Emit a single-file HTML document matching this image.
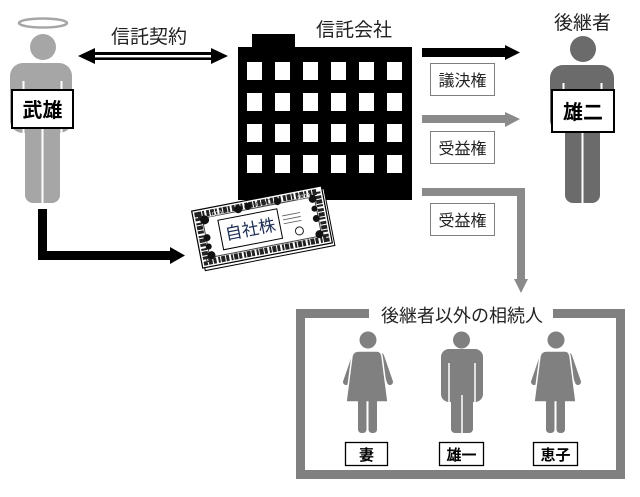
<!DOCTYPE html>
<html><head><meta charset="utf-8">
<style>
html,body{margin:0;padding:0;background:#fff;}
svg{display:block;}
text{font-family:"Liberation Sans","Noto Sans CJK JP",sans-serif;}
</style></head>
<body>
<svg width="640" height="497" viewBox="0 0 640 497" xmlns="http://www.w3.org/2000/svg">
<!-- Takeo figure -->
<g fill="#a6a6a6">
  <ellipse cx="43" cy="23" rx="24" ry="4.5" fill="none" stroke="#a6a6a6" stroke-width="2.5"/>
  <circle cx="43" cy="47" r="13"/>
  <rect x="10" y="63" width="62" height="70" rx="13"/>
  <rect x="25" y="110" width="35" height="93" rx="8"/>
</g>
<g stroke="#fff" stroke-width="2">
  <line x1="23.5" y1="81" x2="23.5" y2="134"/>
  <line x1="61.5" y1="81" x2="61.5" y2="134"/>
  <line x1="42.5" y1="128" x2="42.5" y2="204"/>
</g>
<rect x="12" y="90" width="61" height="38" fill="#fff" stroke="#000" stroke-width="2"/>
<text x="42.5" y="117" font-size="20" font-weight="bold" text-anchor="middle" fill="#000">武雄</text>

<!-- Yuji figure -->
<g fill="#6b6b6b">
  <circle cx="583" cy="49" r="13"/>
  <rect x="550" y="65" width="64" height="68" rx="13"/>
  <rect x="565" y="110" width="35" height="93" rx="8"/>
</g>
<g stroke="#fff" stroke-width="2">
  <line x1="563.5" y1="83" x2="563.5" y2="134"/>
  <line x1="601.5" y1="83" x2="601.5" y2="134"/>
  <line x1="582.5" y1="130" x2="582.5" y2="204"/>
</g>
<rect x="552" y="90" width="62" height="42" fill="#fff" stroke="#000" stroke-width="2"/>
<text x="583" y="119" font-size="20" font-weight="bold" text-anchor="middle" fill="#000">雄二</text>
<text x="582.5" y="29" font-size="19" text-anchor="middle" fill="#222">後継者</text>

<!-- double arrow -->
<polygon points="78,56 95,48 95,52 211,52 211,48 228,56 211,64 211,60 95,60 95,64" fill="#000"/>
<rect x="95" y="55" width="116" height="2.4" fill="#fff"/>
<text x="149" y="43" font-size="19" text-anchor="middle" fill="#222">信託契約</text>

<!-- building -->
<text x="354" y="36" font-size="19" text-anchor="middle" fill="#222">信託会社</text>
<rect x="252" y="34" width="43" height="14" fill="#000"/>
<rect x="238" y="47" width="174" height="153" fill="#000"/>
<g fill="#fff">
  <rect x="247" y="62" width="15" height="18"/><rect x="275" y="62" width="15" height="18"/><rect x="303" y="62" width="15" height="18"/><rect x="331" y="62" width="15" height="18"/><rect x="359" y="62" width="15" height="18"/><rect x="387" y="62" width="15" height="18"/>
  <rect x="247" y="93" width="15" height="18"/><rect x="275" y="93" width="15" height="18"/><rect x="303" y="93" width="15" height="18"/><rect x="331" y="93" width="15" height="18"/><rect x="359" y="93" width="15" height="18"/><rect x="387" y="93" width="15" height="18"/>
  <rect x="247" y="124" width="15" height="18"/><rect x="275" y="124" width="15" height="18"/><rect x="303" y="124" width="15" height="18"/><rect x="331" y="124" width="15" height="18"/><rect x="359" y="124" width="15" height="18"/><rect x="387" y="124" width="15" height="18"/>
  <rect x="247" y="155" width="15" height="18"/><rect x="275" y="155" width="15" height="18"/><rect x="303" y="155" width="15" height="18"/><rect x="331" y="155" width="15" height="18"/><rect x="359" y="155" width="15" height="18"/><rect x="387" y="155" width="15" height="18"/>
</g>

<!-- L arrow from Takeo -->
<polygon points="38,209 47,209 47,251 170,251 170,247 185,255.5 170,264 170,260 38,260" fill="#000"/>

<!-- stock certificate -->
<g transform="translate(262,227) rotate(-11)">
  <rect x="-64" y="-26" width="132" height="58" fill="#fff" stroke="#000" stroke-width="1"/>
  <rect x="-66" y="-29" width="132" height="58" fill="#fff" stroke="#000" stroke-width="1.2"/>
  <rect x="-61" y="-24" width="122" height="48" fill="none" stroke="#222" stroke-width="6" stroke-dasharray="4 1 2 2 3 1"/>
  <rect x="-57" y="-20" width="114" height="40" fill="none" stroke="#444" stroke-width="1"/>
  <g fill="#111">
    <circle cx="-55" cy="-18" r="4.5"/><circle cx="55" cy="-18" r="4"/>
    <circle cx="-55" cy="18" r="4"/><circle cx="55" cy="18" r="4"/>
    <circle cx="-20" cy="-22" r="4"/><circle cx="-10" cy="-23" r="3.5"/><circle cx="20" cy="-22" r="3.5"/>
    <circle cx="-56" cy="0" r="3.5"/><circle cx="55" cy="2" r="3.5"/>
    <circle cx="-56" cy="9" r="3"/><circle cx="55" cy="-8" r="3"/>
  </g>
  <text x="-50" y="-20" font-size="6" fill="#fff">1000</text>
  <text x="40" y="-20" font-size="6" fill="#fff">1000</text>
  <text x="-2" y="-21" font-size="7" fill="#333">OOO</text>
  <rect x="-42" y="-15" width="60" height="30" fill="#fff" stroke="#000" stroke-width="1"/>
  <line x1="22" y1="-7" x2="40" y2="-7" stroke="#555" stroke-width="0.8"/>
  <line x1="22" y1="-3" x2="40" y2="-3" stroke="#555" stroke-width="0.8"/>
  <line x1="22" y1="1" x2="40" y2="1" stroke="#555" stroke-width="0.8"/>
  <circle cx="36" cy="11" r="4" fill="#fff" stroke="#222" stroke-width="1"/>
  <text x="-12" y="6" font-size="17" text-anchor="middle" fill="#1f2f55">自社株</text>
</g>

<!-- right arrows -->
<polygon points="422,48 505,48 505,45 520,52.5 505,60 505,57 422,57" fill="#000"/>
<polygon points="422,115 505,115 505,112 520,119 505,127 505,123 422,123" fill="#8a8a8a"/>
<polygon points="422,188 525,188 525,279 528,279 521,293 514,279 517,279 517,196 422,196" fill="#8a8a8a"/>

<rect x="430.5" y="63.5" width="64" height="32" fill="#fff" stroke="#7f7f7f" stroke-width="1"/>
<text x="462.5" y="86" font-size="16" text-anchor="middle" fill="#222">議決権</text>
<rect x="430.5" y="131.5" width="64" height="32" fill="#fff" stroke="#7f7f7f" stroke-width="1"/>
<text x="462.5" y="154" font-size="16" text-anchor="middle" fill="#222">受益権</text>
<rect x="430.5" y="203.5" width="64" height="32" fill="#fff" stroke="#7f7f7f" stroke-width="1"/>
<text x="462.5" y="226" font-size="16" text-anchor="middle" fill="#222">受益権</text>

<!-- frame -->
<path d="M369,313.5 L300.5,313.5 L300.5,474.5 L620.5,474.5 L620.5,313.5 L553,313.5" fill="none" stroke="#808080" stroke-width="9" stroke-linejoin="miter"/>
<text x="462" y="322" font-size="18" text-anchor="middle" fill="#222">後継者以外の相続人</text>

<!-- woman 1 -->
<g fill="#808080">
  <circle cx="368" cy="340" r="8.5"/>
  <line x1="355" y1="356" x2="346" y2="382" stroke="#808080" stroke-width="6" stroke-linecap="round"/>
  <line x1="381" y1="356" x2="390" y2="382" stroke="#808080" stroke-width="6" stroke-linecap="round"/>
  <path d="M359,351 L377,351 Q381,351 382,356 L388,402 L346,402 L352,356 Q353,351 359,351 Z" stroke="#fff" stroke-width="1.5"/>
  <rect x="358" y="398" width="8.5" height="35" rx="3.5"/>
  <rect x="368.5" y="398" width="8.5" height="35" rx="3.5"/>
</g>
<!-- woman 2 -->
<g fill="#808080">
  <circle cx="556" cy="340" r="8.5"/>
  <line x1="543" y1="356" x2="534" y2="382" stroke="#808080" stroke-width="6" stroke-linecap="round"/>
  <line x1="569" y1="356" x2="578" y2="382" stroke="#808080" stroke-width="6" stroke-linecap="round"/>
  <path d="M547,351 L565,351 Q569,351 570,356 L576,402 L534,402 L540,356 Q541,351 547,351 Z" stroke="#fff" stroke-width="1.5"/>
  <rect x="546" y="398" width="8.5" height="35" rx="3.5"/>
  <rect x="556.5" y="398" width="8.5" height="35" rx="3.5"/>
</g>
<!-- man -->
<g fill="#808080">
  <circle cx="461.5" cy="340" r="8.5"/>
  <rect x="441" y="349" width="42" height="53" rx="8"/>
  <rect x="451" y="380" width="22" height="53" rx="4"/>
</g>
<g stroke="#fff" stroke-width="1.5">
  <line x1="449" y1="363" x2="449" y2="404"/>
  <line x1="475" y1="363" x2="475" y2="404"/>
  <line x1="462" y1="395" x2="462" y2="434"/>
</g>

<!-- labels -->
<rect x="345.5" y="442.5" width="42" height="23" fill="#fff" stroke="#000" stroke-width="1.3"/>
<text x="366.5" y="460" font-size="15" font-weight="bold" text-anchor="middle" fill="#000">妻</text>
<rect x="439.5" y="442.5" width="44" height="23" fill="#fff" stroke="#000" stroke-width="1.3"/>
<text x="461.5" y="460" font-size="15" font-weight="bold" text-anchor="middle" fill="#000">雄一</text>
<rect x="533.5" y="442.5" width="44" height="23" fill="#fff" stroke="#000" stroke-width="1.3"/>
<text x="555.5" y="460" font-size="15" font-weight="bold" text-anchor="middle" fill="#000">恵子</text>
</svg>
</body></html>
